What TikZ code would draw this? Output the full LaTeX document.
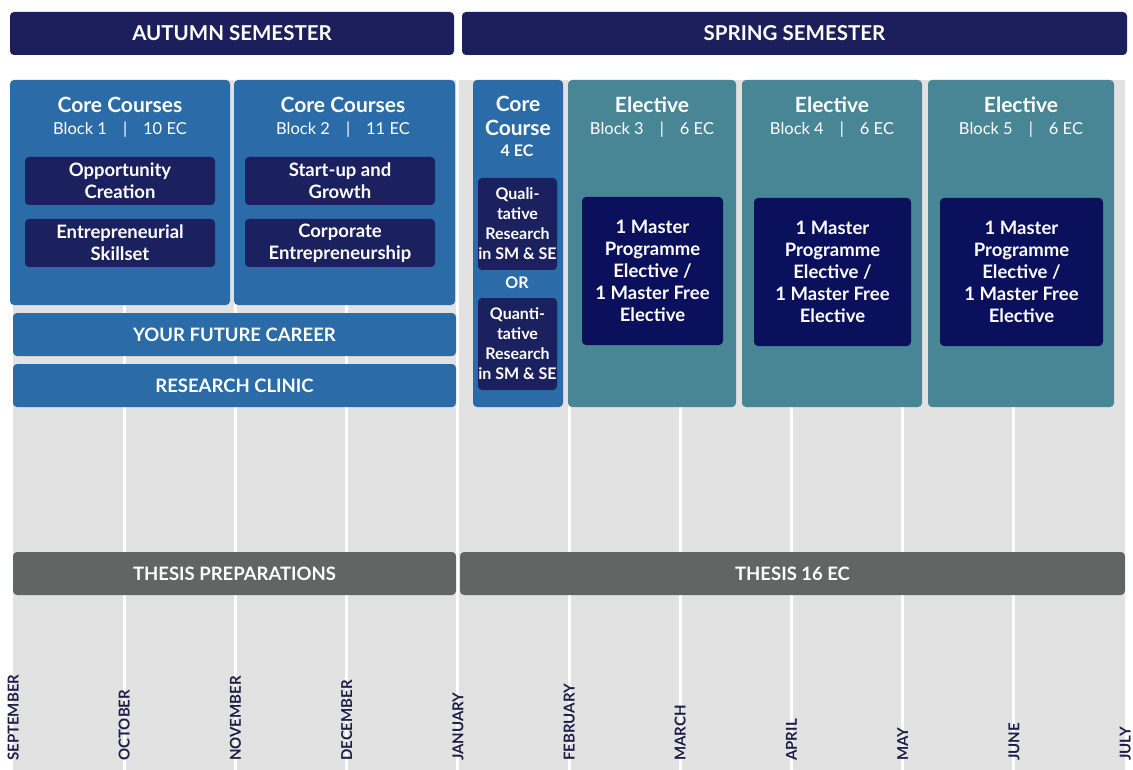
\documentclass[tikz,border=0pt]{standalone}
\usepackage{fontspec}
\setmainfont{Lato}
\usetikzlibrary{fit}
\definecolor{navy}{RGB}{28,31,91}
\definecolor{blueC}{RGB}{43,108,168}
\definecolor{tealC}{RGB}{72,134,150}
\definecolor{innB}{RGB}{27,32,94}
\definecolor{innE}{RGB}{10,16,92}
\definecolor{gbar}{RGB}{98,101,100}
\definecolor{bgC}{RGB}{226,226,226}
\definecolor{monthC}{RGB}{28,30,70}
\newcommand{\bx}[6]{\node[#1, fit={(#3,#4)(#5,#6)}, inner sep=0pt] (#2) {};}
\tikzset{
  hdr/.style={fill=navy, rounded corners=4pt},
  blk/.style={fill=blueC, rounded corners=4pt},
  tl/.style={fill=tealC, rounded corners=4pt},
  innb/.style={fill=innB, rounded corners=4pt},
  inne/.style={fill=innE, rounded corners=4pt},
  gb/.style={fill=gbar, rounded corners=4pt},
  wt/.style={text=white, inner sep=0pt, align=center},
  hdrtxt/.style={wt, font=\bfseries\fontsize{20.5}{22}\selectfont},
  ttl/.style={wt, font=\bfseries\fontsize{21}{23.5}\selectfont},
  sub/.style={wt, font=\fontsize{16.5}{19}\selectfont},
  inn/.style={wt, font=\bfseries\fontsize{18.5}{22}\selectfont},
  small/.style={wt, font=\bfseries\fontsize{16}{20}\selectfont},
  bartxt/.style={wt, font=\bfseries\fontsize{18.5}{20}\selectfont},
  mon/.style={text=monthC, inner sep=0pt, rotate=90, anchor=base west, font=\bfseries\fontsize{15}{15}\selectfont},
  mline/.style={white, line width=3pt}
}
\newcommand{\blkline}[2]{#1\hspace{16pt}|\hspace{16pt}#2}
\begin{document}
\begin{tikzpicture}[x=1pt,y=-1pt]
\useasboundingbox (0,0) rectangle (1133,770);
% background
\fill[bgC] (13,80) rectangle (1125,770);
\foreach \k in {1,...,9}{
  \draw[mline] ({13+111.2*\k},80) -- ({13+111.2*\k},770);
}
% month labels
\foreach \k/\m in {0/SEPTEMBER,1/OCTOBER,2/NOVEMBER,3/DECEMBER,4/JANUARY,5/FEBRUARY,6/MARCH,7/APRIL,8/MAY,9/JUNE,10/JULY}{
  \node[mon] (m\k) at ({13+111.2*\k+5.5},761) {\m};
}
% headers
\bx{hdr}{aut}{10}{12}{454}{55}
\bx{hdr}{spr}{462}{12}{1127}{55}
\node[hdrtxt] (autt) at (aut.center) {AUTUMN SEMESTER};
\node[hdrtxt] (sprt) at (spr.center) {SPRING SEMESTER};
% block 1
\bx{blk}{b1}{10}{80}{230}{305}
\node[ttl] (b1t) at (120,105) {Core Courses};
\node[sub] (b1s) at (120,130) {\blkline{Block 1}{10 EC}};
\bx{innb}{oc}{25}{157}{215}{205}
\node[inn] (oct) at (oc.center) {Opportunity\\Creation};
\bx{innb}{es}{25}{219}{215}{267}
\node[inn] (est) at (es.center) {Entrepreneurial\\Skillset};
% block 2
\bx{blk}{b2}{234}{80}{455}{305}
\node[ttl] (b2t) at (343,105) {Core Courses};
\node[sub] (b2s) at (343,130) {\blkline{Block 2}{11 EC}};
\bx{innb}{sg}{245}{157}{435}{205}
\node[inn] (sgt) at (sg.center) {Start-up and\\Growth};
\bx{innb}{ce}{245}{219}{435}{267}
\node[inn] (cet) at (ce.center) {Corporate\\Entrepreneurship};
% bars
\bx{blk}{yfc}{13}{313}{456}{356}
\node[bartxt] (yfct) at (yfc.center) {YOUR FUTURE CAREER};
\bx{blk}{rc}{13}{364}{456}{407}
\node[bartxt] (rct) at (rc.center) {RESEARCH CLINIC};
% core course
\bx{blk}{cc}{473}{80}{563}{407}
\node[ttl] (cct) at (518,116) {Core\\Course};
\node[small] (cce) at (517,151) {4 EC};
\bx{innb}{ql}{478}{178}{557}{270}
\node[small] (qlt) at (ql.center) {Quali-\\tative\\Research\\in SM \& SE};
\node[small] (or) at (517,283) {OR};
\bx{innb}{qn}{478}{298}{557}{390}
\node[small] (qnt) at (qn.center) {Quanti-\\tative\\Research\\in SM \& SE};
% electives
\bx{tl}{e3}{568}{80}{736}{407}
\node[ttl] (e3t) at (652,105) {Elective};
\node[sub] (e3s) at (652,130) {\blkline{Block 3}{6 EC}};
\bx{inne}{e3i}{582}{197}{723}{345}
\node[inn] (e3it) at (e3i.center) {1 Master\\Programme\\Elective /\\1 Master Free\\Elective};
\bx{tl}{e4}{742}{80}{922}{407}
\node[ttl] (e4t) at (832,105) {Elective};
\node[sub] (e4s) at (832,130) {\blkline{Block 4}{6 EC}};
\bx{inne}{e4i}{754}{198}{911}{346}
\node[inn] (e4it) at (e4i.center) {1 Master\\Programme\\Elective /\\1 Master Free\\Elective};
\bx{tl}{e5}{928}{80}{1114}{407}
\node[ttl] (e5t) at (1021,105) {Elective};
\node[sub] (e5s) at (1021,130) {\blkline{Block 5}{6 EC}};
\bx{inne}{e5i}{940}{198}{1103}{346}
\node[inn] (e5it) at (e5i.center) {1 Master\\Programme\\Elective /\\1 Master Free\\Elective};
% thesis
\bx{gb}{tp}{13}{552}{456}{595}
\node[bartxt] (tpt) at (tp.center) {THESIS PREPARATIONS};
\bx{gb}{th}{460}{552}{1125}{595}
\node[bartxt] (tht) at (th.center) {THESIS 16 EC};
\end{tikzpicture}
\end{document}
